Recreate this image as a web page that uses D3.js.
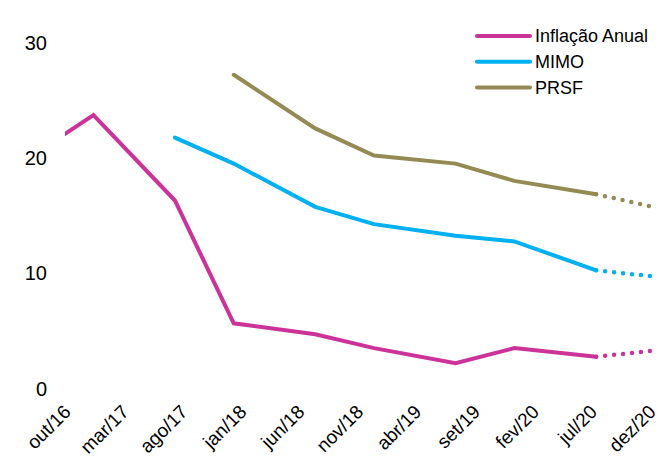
<!DOCTYPE html>
<html>
<head>
<meta charset="utf-8">
<script src="https://cdn.jsdelivr.net/npm/d3@7"></script>
<style>
  body { margin: 0; background: #fff; }
  svg text { font-family: "Liberation Sans", Arial, sans-serif; fill: #000; }
</style>
</head>
<body>
<div id="chart"></div>
<script>
// tick labels (every 5 months)
const tickLabels = ['out/16', 'mar/17', 'ago/17', 'jan/18', 'jun/18', 'nov/18', 'abr/19', 'set/19', 'fev/20', 'jul/20', 'dez/20'];
const tickDates = ['2016-10', '2017-03', '2017-08', '2018-01', '2018-06', '2018-11', '2019-04', '2019-09', '2020-02', '2020-07', '2020-12'];
const yTicks = [0, 10, 20, 30];

// Inflação Anual
const inflDates = ['2016-06', '2016-12', '2017-07', '2017-12', '2018-07', '2018-12', '2019-07', '2019-12', '2020-07'];
const inflValues = [19.7, 23.7, 16.3, 5.65, 4.7, 3.5, 2.2, 3.5, 2.75];
// MIMO
const mimoDates = ['2017-07', '2017-12', '2018-07', '2018-12', '2019-07', '2019-12', '2020-07'];
const mimoValues = [21.75, 19.5, 15.75, 14.25, 13.25, 12.75, 10.25];
// PRSF
const prsfDates = ['2017-12', '2018-07', '2018-12', '2019-07', '2019-12', '2020-07'];
const prsfValues = [27.2, 22.55, 20.2, 19.5, 18.0, 16.85];
// projections (dotted), jul/20 -> dez/20
const projDates = ['2020-07', '2020-12'];
const inflProj = [2.75, 3.3];
const mimoProj = [10.25, 9.7];
const prsfProj = [16.85, 15.7];

const width = 659, height = 459;
const parse = s => { const [y, m] = s.split('-').map(Number); return new Date(Date.UTC(y, m - 1, 1)); };

const x = d3.scaleUtc()
  .domain([parse('2016-10'), parse('2020-12')])
  .range([70, 655]);
const y = d3.scaleLinear()
  .domain([0, 30])
  .range([388.5, 42.5]);

const svg = d3.select('#chart').append('svg')
  .attr('width', width)
  .attr('height', height);

svg.append('clipPath').attr('id', 'plot-clip')
  .append('rect').attr('x', 65).attr('y', 0).attr('width', width - 65).attr('height', height);

// y axis labels
svg.selectAll('text.ylab')
  .data(yTicks).enter().append('text')
    .attr('class', 'ylab')
    .attr('x', 47).attr('y', d => y(d))
    .attr('dy', '0.36em')
    .attr('text-anchor', 'end')
    .style('font-size', '20px')
    .text(d => d);

// x axis labels, rotated
svg.selectAll('text.xlab')
  .data(tickDates).enter().append('text')
    .attr('class', 'xlab')
    .attr('text-anchor', 'end')
    .attr('transform', d => `translate(${x(parse(d)) + 2},413) rotate(-45)`)
    .style('font-size', '19px')
    .text((d, i) => tickLabels[i]);

const line = d3.line()
  .x(d => x(parse(d[0])))
  .y(d => y(d[1]));

const series = [
  { name: 'Inflação Anual', color: '#CC3399', dates: inflDates, values: inflValues, proj: inflProj },
  { name: 'MIMO', color: '#00B0F0', dates: mimoDates, values: mimoValues, proj: mimoProj },
  { name: 'PRSF', color: '#948A54', dates: prsfDates, values: prsfValues, proj: prsfProj }
];

const plot = svg.append('g').attr('clip-path', 'url(#plot-clip)');

series.forEach(s => {
  plot.append('path')
    .datum(d3.zip(s.dates, s.values))
    .attr('d', line)
    .attr('fill', 'none')
    .attr('stroke', s.color)
    .attr('stroke-width', 4)
    .attr('stroke-linecap', 'round');
  // dotted projection
  plot.append('path')
    .datum(d3.zip(projDates, s.proj))
    .attr('d', line)
    .attr('fill', 'none')
    .attr('stroke', s.color)
    .attr('stroke-width', 4.5)
    .attr('stroke-linecap', 'round')
    .attr('stroke-dasharray', '0 9');
});

// legend
const legend = svg.append('g');
series.forEach((s, i) => {
  const ly = 36 + i * 25.8;
  legend.append('line')
    .attr('x1', 477).attr('x2', 530)
    .attr('y1', ly).attr('y2', ly)
    .attr('stroke', s.color)
    .attr('stroke-width', 4)
    .attr('stroke-linecap', 'round');
  legend.append('text')
    .attr('x', 535).attr('y', ly)
    .attr('dy', '0.36em')
    .style('font-size', '18px')
    .text(s.name);
});
</script>
</body>
</html>
